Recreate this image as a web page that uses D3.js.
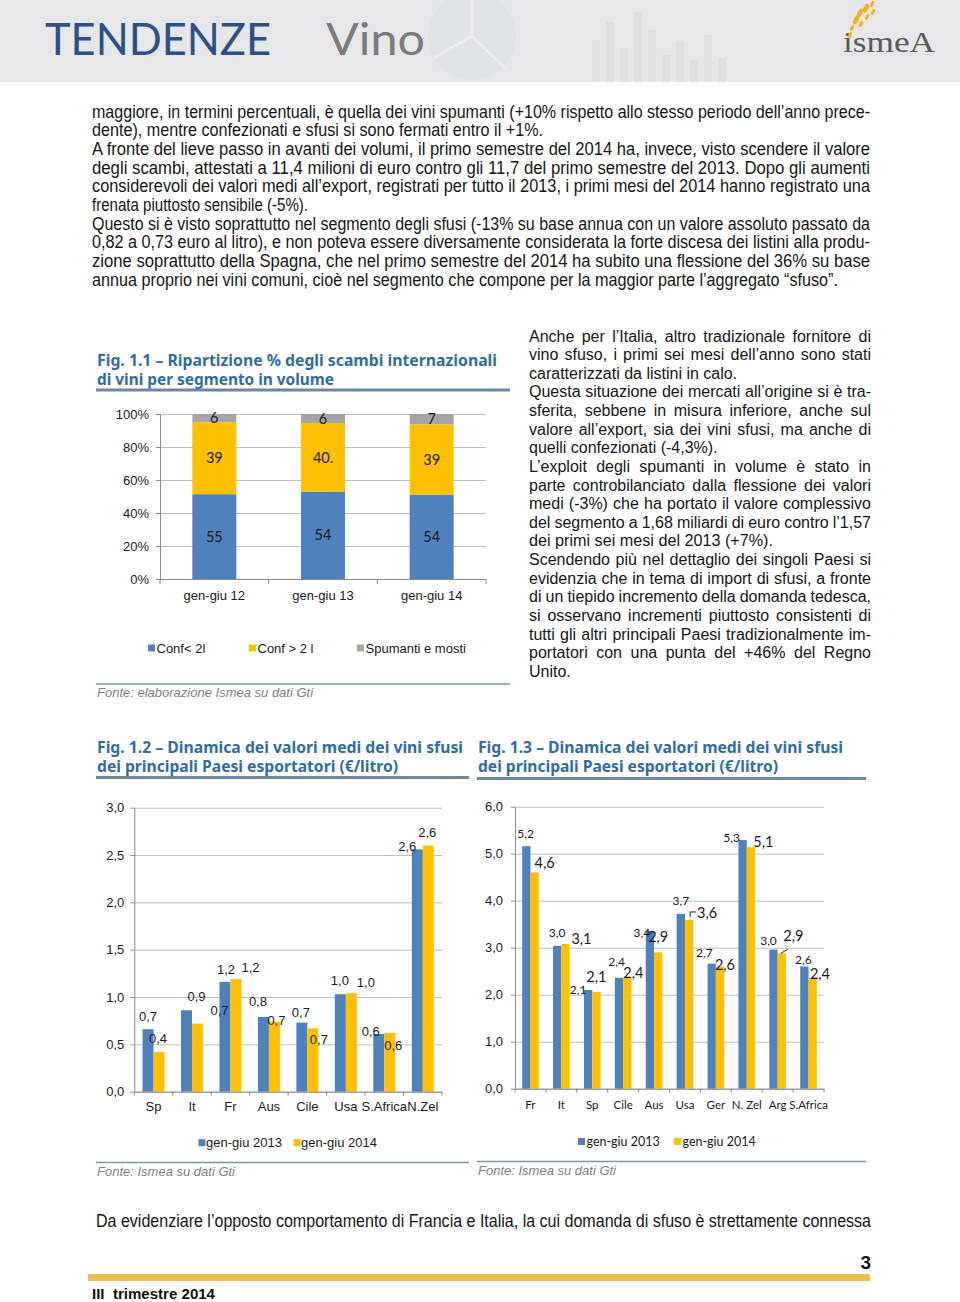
<!DOCTYPE html>
<html><head><meta charset="utf-8">
<script src="https://cdn.jsdelivr.net/npm/d3@7"></script>
<style>body{margin:0;background:#fff}svg{display:block}</style>
</head><body>
<svg id="page" width="960" height="1302"></svg>
<script>
// ---------------- DATA ----------------
const fig11Categories = ["gen-giu 12", "gen-giu 13", "gen-giu 14"];
const fig11SeriesNames = ["Conf< 2l", "Conf > 2 l", "Spumanti e mosti"];
const fig11Conf2l = [51.4, 53.0, 51.0];
const fig11ConfOver2l = [43.6, 41.5, 42.7];
const fig11Spumanti = [5.0, 5.5, 6.3];
const fig11LabelsConf2l = ["55", "54", "54"];
const fig11LabelsConfOver2l = ["39", "40.", "39"];
const fig11LabelsSpumanti = ["6", "6", "7"];
const fig11Ticks = [0, 20, 40, 60, 80, 100];

const seriesNames = ["gen-giu 2013", "gen-giu 2014"];

const fig12Countries = ["Sp", "It", "Fr", "Aus", "Cile", "Usa", "S.Africa", "N.Zel"];
const fig12Values2013 = [0.66, 0.86, 1.16, 0.79, 0.73, 1.03, 0.61, 2.56];
const fig12Values2014 = [0.42, 0.72, 1.19, 0.74, 0.67, 1.04, 0.62, 2.60];
const fig12Ticks = [0, 0.5, 1, 1.5, 2, 2.5, 3];

const fig13Countries = ["Fr", "It", "Sp", "Cile", "Aus", "Usa", "Ger", "N. Zel", "Arg", "S.Africa"];
const fig13Values2013 = [5.16, 3.04, 2.10, 2.36, 3.36, 3.72, 2.66, 5.29, 2.96, 2.60];
const fig13Values2014 = [4.60, 3.08, 2.06, 2.37, 2.90, 3.59, 2.60, 5.14, 2.88, 2.36];
const fig13Ticks = [0, 1, 2, 3, 4, 5, 6];

// label nudges (layout only, relative to default label spot above each bar)
const nudge12a = [[0,0],[10,-1],[1,0],[-5.5,-2.7],[-1,2.3],[-0.5,-0.6],[-8,10.6],[-10,9.6]];
const nudge12b = [[-1,-0.7],[22,0],[14.5,1],[2,11.3],[6,23.6],[14.5,2.3],[3.5,25.3],[-1,0]];
const nudge13a = [[-0.7,0],[0,0.3],[-10,13],[-2.3,-3.6],[-8,15],[0,0],[-7.4,1.5],[-11,11],[-5,4],[-1,6]];
const nudge13b = [[10,3],[16,8.3],[0,-2],[6,8.3],[0,-2.7],[18,6.3],[5,11],[12.4,8],[11.5,-5],[7.3,8.7]];

// ---------------- TEXT ----------------
const paraTop = [
 ["maggiore, in termini percentuali, è quella dei vini spumanti (+10% rispetto allo stesso periodo dell’anno prece-", "j"],
 ["dente), mentre confezionati e sfusi si sono fermati entro il +1%.", 543],
 ["A fronte del lieve passo in avanti dei volumi, il primo semestre del 2014 ha, invece, visto scendere il valore", "j"],
 ["degli scambi, attestati a 11,4 milioni di euro contro gli 11,7 del primo semestre del 2013. Dopo gli aumenti", "j"],
 ["considerevoli dei valori medi all’export, registrati per tutto il 2013, i primi mesi del 2014 hanno registrato una", "j"],
 ["frenata piuttosto sensibile (-5%).", 308],
 ["Questo si è visto soprattutto nel segmento degli sfusi (-13% su base annua con un valore assoluto passato da", "j"],
 ["0,82 a 0,73 euro al litro), e non poteva essere diversamente considerata la forte discesa dei listini alla produ-", "j"],
 ["zione soprattutto della Spagna, che nel primo semestre del 2014 ha subito una flessione del 36% su base", "j"],
 ["annua proprio nei vini comuni, cioè nel segmento che compone per la maggior parte l’aggregato “sfuso”.", 838]
];
const paraRight = [
 ["Anche per l’Italia, altro tradizionale fornitore di", "j"],
 ["vino sfuso, i primi sei mesi dell’anno sono stati", "j"],
 ["caratterizzati da listini in calo.", 739],
 ["Questa situazione dei mercati all’origine si è tra-", "j"],
 ["sferita, sebbene in misura inferiore, anche sul", "j"],
 ["valore all’export, sia dei vini sfusi, ma anche di", "j"],
 ["quelli confezionati (-4,3%).", 717],
 ["L’exploit degli spumanti in volume è stato in", "j"],
 ["parte controbilanciato dalla flessione dei valori", "j"],
 ["medi (-3%) che ha portato il valore complessivo", "j"],
 ["del segmento a 1,68 miliardi di euro contro l’1,57", "j"],
 ["dei primi sei mesi del 2013 (+7%).", 773],
 ["Scendendo più nel dettaglio dei singoli Paesi si", "j"],
 ["evidenzia che in tema di import di sfusi, a fronte", "j"],
 ["di un tiepido incremento della domanda tedesca,", "j"],
 ["si osservano incrementi piuttosto consistenti di", "j"],
 ["tutti gli altri principali Paesi tradizionalmente im-", "j"],
 ["portatori con una punta del +46% del Regno", "j"],
 ["Unito.", 571]
];
const bottomLine = "Da evidenziare l’opposto comportamento di Francia e Italia, la cui domanda di sfuso è strettamente connessa";

// ---------------- STYLE ----------------
const BLUE = "#4f81bd", YELLOW = "#ffc000", GRAY = "#a5a5a5";
const TITLE = "#2f6ca5", RULE = "#6d86a4";
const GRID = "#bdbdbd", AXIS = "#8c8c8c";
const ARIAL = '"Liberation Sans", Arial, sans-serif';
const CAL = 'Lato, "Liberation Sans", sans-serif';

const svg = d3.select("#page");
const ctx = document.createElement("canvas").getContext("2d");
function textW(s, font) { ctx.font = font; return ctx.measureText(s).width; }
function hasFont(name) {
  const t = "abcdefghijklmnopqrstuvwxyz0123456789";
  return Math.abs(textW(t, `20px "${name}", monospace`) - textW(t, "20px monospace")) > 0.5;
}
const narrowOK = hasFont("Liberation Sans Narrow");
const TOPFAM = narrowOK ? '"Liberation Sans Narrow", "Liberation Sans", sans-serif' : ARIAL;
const TOPSIZE = narrowOK ? 18 : 17.5;

// squeeze=true: the whole line is fitted to its width (condensed look, normal word spacing)
function drawLine(g, str, x, y, width, mode, fam, size, squeeze) {
  const font = `400 ${size}px ${fam}`;
  const base = (sel) => sel.attr("y", y).attr("font-family", fam).attr("font-size", size).attr("fill", "#151515");
  if (mode === "j") {
    const words = str.split(" ");
    const ws = words.map(w => textW(w, font));
    const gap = (width - d3.sum(ws)) / (words.length - 1);
    if (squeeze || gap < textW(" ", font) * 0.6) {
      g.append("text").call(base).attr("x", x).attr("textLength", width)
        .attr("lengthAdjust", "spacingAndGlyphs").text(str);
    } else {
      let cx = x;
      words.forEach((w, i) => { g.append("text").call(base).attr("x", cx).text(w); cx += ws[i] + gap; });
    }
  } else {
    const target = mode - x;
    const nat = textW(str, font);
    const t = g.append("text").call(base).attr("x", x).text(str);
    if (Math.abs(target - nat) > 2) t.attr("textLength", target).attr("lengthAdjust", "spacingAndGlyphs");
  }
}

// ---------------- HEADER ----------------
const hd = svg.append("g");
hd.append("rect").attr("width", 960).attr("height", 82).attr("fill", "#e7e7e9");
hd.append("circle").attr("cx", 472).attr("cy", 36).attr("r", 44).attr("fill", "#e0e3e8");
hd.append("path").attr("d", "M472,36 L472,-8 M472,36 L434,58 M472,36 L505,68").attr("stroke", "#ebedf0").attr("stroke-width", 3);
[[592,40],[606,22],[620,48],[634,12],[648,30],[662,55],[676,42],[690,60],[704,35],[718,58]].forEach(([bx, bh]) =>
  hd.append("rect").attr("x", bx).attr("y", bh).attr("width", 8).attr("height", 82 - bh).attr("fill", "#dfe0e3"));
hd.append("text").attr("x", 45).attr("y", 55).attr("font-family", 'Lato, "Liberation Sans", sans-serif')
  .attr("font-weight", 400).attr("font-size", 45).attr("fill", "#2b5286")
  .attr("textLength", 226).attr("lengthAdjust", "spacingAndGlyphs").text("TENDENZE");
hd.append("text").attr("x", 326).attr("y", 55).attr("font-family", 'Lato, "Liberation Sans", sans-serif')
  .attr("font-weight", 400).attr("font-size", 45).attr("fill", "#7b7b7b")
  .attr("textLength", 99).attr("lengthAdjust", "spacingAndGlyphs").text("Vino");
hd.append("text").attr("x", 843).attr("y", 52).attr("font-family", '"Liberation Serif", serif')
  .attr("font-size", 30).attr("fill", "#5b5b5b").attr("textLength", 92).attr("lengthAdjust", "spacingAndGlyphs").text("ismeA");
[[852,28,2],[856,20,3],[860,13,3],[866,8,3],[872,4,2],[861,24,2],[867,17,2],[873,12,2],[850,35,2]].forEach(([fx, fy, r]) =>
  hd.append("ellipse").attr("cx", fx).attr("cy", fy).attr("rx", r * 0.8).attr("ry", r * 1.6)
    .attr("transform", `rotate(25,${fx},${fy})`).attr("fill", "#f3b21c"));

// ---------------- PARAGRAPHS ----------------
const tp = svg.append("g");
paraTop.forEach(([s, m], i) => drawLine(tp, s, 92, 117.5 + i * 18.67, 778, m, TOPFAM, TOPSIZE, true));
const rp = svg.append("g");
paraRight.forEach(([s, m], i) => drawLine(rp, s, 529, 341.5 + i * 18.63, 342, m, ARIAL, 16, false));
drawLine(svg.append("g"), bottomLine, 96, 1226.5, 775, "j", TOPFAM, TOPSIZE, true);

// ---------------- FIGURE FRAMES ----------------
function frame(x, t1, t2, w1, w2, yT, ruleTop, ruleBot, ruleX2, yFonte, fonte) {
  const g = svg.append("g");
  [[t1, w1, yT], [t2, w2, yT + 19.5]].forEach(([s, w, yy]) =>
    g.append("text").attr("x", x).attr("y", yy).attr("font-family", '"Noto Sans", "DejaVu Sans", sans-serif')
      .attr("font-weight", 700).attr("font-size", 16).attr("fill", TITLE)
      .attr("textLength", w).attr("lengthAdjust", "spacingAndGlyphs").text(s));
  g.append("line").attr("x1", x - 1).attr("x2", ruleX2).attr("y1", ruleTop).attr("y2", ruleTop)
    .attr("stroke", RULE).attr("stroke-width", 3);
  g.append("line").attr("x1", x - 1).attr("x2", ruleX2).attr("y1", ruleBot).attr("y2", ruleBot)
    .attr("stroke", "#7e94ad").attr("stroke-width", 1.5);
  g.append("text").attr("x", x).attr("y", yFonte).attr("font-family", ARIAL).attr("font-style", "italic")
    .attr("font-size", 13).attr("fill", "#808080").text(fonte);
}
frame(97, "Fig. 1.1 – Ripartizione % degli scambi internazionali", "di vini per segmento in volume", 400, 237, 365.5, 390, 684, 510, 696.5, "Fonte: elaborazione Ismea su dati Gti");
frame(97, "Fig. 1.2 – Dinamica dei valori medi dei vini sfusi", "dei principali Paesi esportatori (€/litro)", 366, 301, 752.5, 777.5, 1162.5, 469, 1175.5, "Fonte: Ismea su dati Gti");
frame(478, "Fig. 1.3 – Dinamica dei valori medi dei vini sfusi", "dei principali Paesi esportatori (€/litro)", 365, 300, 752.5, 778.5, 1161.5, 866, 1174.5, "Fonte: Ismea su dati Gti");

function styleAxis(sel, fam, size) {
  sel.select(".domain").attr("stroke", AXIS);
  sel.selectAll(".tick line").attr("stroke", AXIS);
  sel.selectAll("text").attr("font-family", fam).attr("font-size", size).attr("fill", "#1a1a1a");
}
function grid(g, y, ticks, x0, x1) {
  g.append("g").attr("transform", `translate(${x0},0)`)
    .call(d3.axisLeft(y).tickValues(ticks).tickSize(-(x1 - x0)).tickFormat(""))
    .call(s => { s.select(".domain").remove(); s.selectAll("line").attr("stroke", GRID); });
}
const comma = d => d3.format(".1f")(d).replace(".", ",");

// ---------------- FIG 1.1 ----------------
{
  const g = svg.append("g");
  const x0 = 160, x1 = 486, yb = 579, yt = 414;
  const y = d3.scaleLinear().domain([0, 100]).range([yb, yt]);
  const x = d3.scaleBand().domain(fig11Categories).range([x0, x1]);
  const bw = x.bandwidth() * 0.405;
  grid(g, y, fig11Ticks, x0, x1);
  const rows = fig11Categories.map((c, i) => [fig11Conf2l[i], fig11ConfOver2l[i], fig11Spumanti[i]]);
  const stacked = d3.stack().keys([0, 1, 2]).value((d, k) => d[k])(rows);
  const colors = [BLUE, YELLOW, GRAY];
  const labels = [fig11LabelsConf2l, fig11LabelsConfOver2l, fig11LabelsSpumanti];
  stacked.forEach((layer, li) => {
    g.selectAll(null).data(layer).join("rect")
      .attr("x", (d, i) => x(fig11Categories[i]) + (x.bandwidth() - bw) / 2)
      .attr("width", bw).attr("y", d => y(d[1])).attr("height", d => y(d[0]) - y(d[1]))
      .attr("fill", colors[li]);
  });
  stacked.forEach((layer, li) => {
    g.selectAll(null).data(layer).join("text")
      .attr("x", (d, i) => x(fig11Categories[i]) + x.bandwidth() / 2)
      .attr("y", d => (y(d[0]) + y(d[1])) / 2).attr("dy", "0.36em")
      .attr("text-anchor", "middle").attr("font-family", CAL).attr("font-size", 14.5).attr("fill", "#1a1a1a")
      .text((d, i) => labels[li][i]);
  });
  g.append("g").attr("transform", `translate(${x0},0)`)
    .call(d3.axisLeft(y).tickValues(fig11Ticks).tickFormat(d => d + "%").tickSize(4).tickPadding(7).tickSizeOuter(0))
    .call(s => styleAxis(s, ARIAL, 13));
  g.append("g").attr("transform", `translate(0,${yb})`)
    .call(d3.axisBottom(x).tickSize(0).tickPadding(11.3).tickSizeOuter(0))
    .call(s => styleAxis(s, ARIAL, 13));
  [...fig11Categories.map(c => x(c)), x1].forEach(px =>
    g.append("line").attr("x1", px).attr("x2", px).attr("y1", yb).attr("y2", yb + 5).attr("stroke", AXIS));
  const lx = [148, 249, 357];
  fig11SeriesNames.forEach((n, i) => {
    g.append("rect").attr("x", lx[i]).attr("y", 644.5).attr("width", 7).attr("height", 7).attr("fill", colors[i]);
    g.append("text").attr("x", lx[i] + 8.5).attr("y", 652.5).attr("font-family", ARIAL).attr("font-size", 13)
      .attr("fill", "#1a1a1a").text(n);
  });
}

// ---------------- CLUSTERED CHARTS ----------------
function clustered(cfg) {
  const g = svg.append("g");
  const y = d3.scaleLinear().domain([0, cfg.max]).range([cfg.yb, cfg.yt]);
  const x = d3.scaleBand().domain(cfg.cats).range([cfg.x0, cfg.x1]);
  const pairW = x.bandwidth() * cfg.pairFrac;
  const xs = d3.scaleBand().domain([0, 1]).range([0, pairW]);
  const off = (x.bandwidth() - pairW) / 2;
  grid(g, y, cfg.ticks, cfg.x0, cfg.x1);
  const colors = [BLUE, YELLOW];
  const series = [cfg.a, cfg.b];
  series.forEach((vals, si) => {
    g.selectAll(null).data(vals).join("rect")
      .attr("x", (d, i) => x(cfg.cats[i]) + off + xs(si)).attr("width", xs.bandwidth())
      .attr("y", d => y(d)).attr("height", d => y(0) - y(d)).attr("fill", colors[si]);
  });
  g.append("g").attr("transform", `translate(${cfg.x0},0)`)
    .call(d3.axisLeft(y).tickValues(cfg.ticks).tickFormat(comma).tickSize(4).tickPadding(cfg.ypad).tickSizeOuter(0))
    .call(s => styleAxis(s, ARIAL, 13));
  g.append("g").attr("transform", `translate(0,${cfg.yb})`)
    .call(d3.axisBottom(x).tickSize(0).tickPadding(cfg.xpad).tickSizeOuter(0))
    .call(s => styleAxis(s, cfg.xfam, cfg.xsize));
  [...cfg.cats.map(c => x(c)), cfg.x1].forEach(px =>
    g.append("line").attr("x1", px).attr("x2", px).attr("y1", cfg.yb).attr("y2", cfg.yb + 4).attr("stroke", AXIS));
  const nudges = [cfg.na, cfg.nb];
  series.forEach((vals, si) => {
    g.selectAll(null).data(vals).join("text")
      .attr("x", (d, i) => x(cfg.cats[i]) + off + xs(si) + xs.bandwidth() / 2 + nudges[si][i][0])
      .attr("y", (d, i) => y(d) - 13 + nudges[si][i][1]).attr("dy", "0.36em")
      .attr("text-anchor", "middle").attr("font-family", cfg.lfam).attr("font-size", cfg.lsize[si])
      .attr("fill", "#1a1a1a").text(d => comma(d));
  });
  (cfg.leaders || []).forEach(([idx, kind]) => {
    const cx = x(cfg.cats[idx]) + off + xs(1) + xs.bandwidth() / 2;
    const ty = y(cfg.b[idx]);
    const p = kind === "elbow" ? `M${cx + 1},${ty - 3}V${ty - 8}H${cx + 7}` : `M${cx - 1},${ty}L${cx + 6},${ty - 4}`;
    g.append("path").attr("d", p).attr("fill", "none").attr("stroke", "#222").attr("stroke-width", 1);
  });
  cfg.legend.forEach((lx, i) => {
    g.append("rect").attr("x", lx).attr("y", cfg.ly - 3.5).attr("width", 7).attr("height", 7).attr("fill", colors[i]);
    g.append("text").attr("x", lx + cfg.lgap).attr("y", cfg.ly).attr("dy", "0.36em").attr("font-family", cfg.legFam)
      .attr("font-size", cfg.legSize).attr("fill", "#1a1a1a").text(seriesNames[i]);
  });
}

clustered({
  cats: fig12Countries, a: fig12Values2013, b: fig12Values2014, ticks: fig12Ticks, max: 3,
  x0: 134.3, x1: 442, yb: 1091.7, yt: 807.7, pairFrac: 0.572, ypad: 6, xpad: 10,
  xfam: ARIAL, xsize: 13, lfam: ARIAL, lsize: [13, 13], na: nudge12a, nb: nudge12b,
  legend: [198.5, 293.5], ly: 1142.7, lgap: 7.5, legFam: ARIAL, legSize: 13
});
clustered({
  cats: fig13Countries, a: fig13Values2013, b: fig13Values2014, ticks: fig13Ticks, max: 6,
  x0: 515, x1: 824, yb: 1088.7, yt: 806.7, pairFrac: 0.537, ypad: 8, xpad: 12.3,
  xfam: CAL, xsize: 11.5, lfam: CAL, lsize: [12, 14.5], na: nudge13a, nb: nudge13b,
  leaders: [[5, "elbow"], [8, "diag"]],
  legend: [578, 674], ly: 1141.5, lgap: 8.5, legFam: CAL, legSize: 12.5
});

// ---------------- FOOTER ----------------
svg.append("text").attr("x", 871).attr("y", 1268.5).attr("text-anchor", "end").attr("font-family", ARIAL)
  .attr("font-weight", 700).attr("font-size", 19).attr("fill", "#111").text("3");
svg.append("rect").attr("x", 88).attr("y", 1274).attr("width", 782).attr("height", 7).attr("fill", "#f0bb4f");
svg.append("text").attr("x", 92).attr("y", 1299).attr("font-family", TOPFAM).attr("font-weight", 700)
  .attr("font-size", 15).attr("fill", "#111").attr("textLength", 123).attr("lengthAdjust", "spacingAndGlyphs")
  .attr("xml:space", "preserve").text("III  trimestre 2014");
</script>
</body></html>
